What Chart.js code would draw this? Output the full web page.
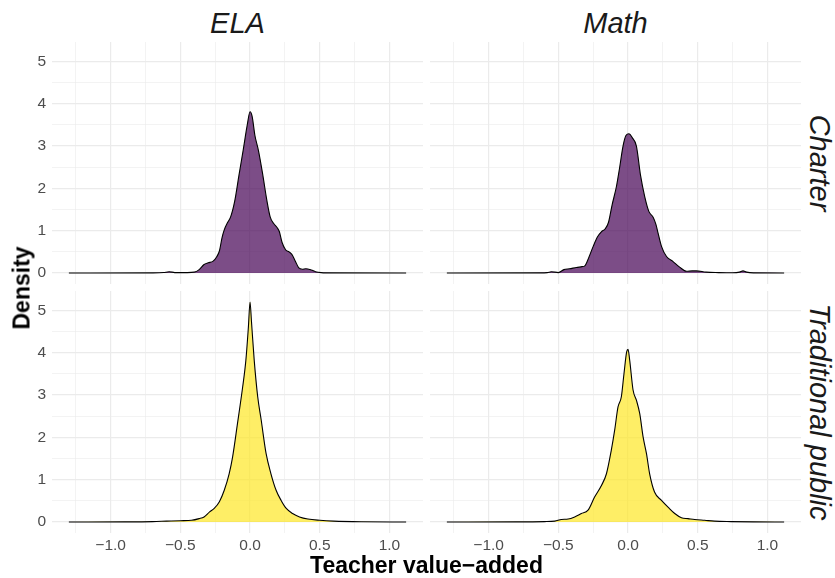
<!DOCTYPE html>
<html>
<head>
<meta charset="utf-8">
<script src="https://cdn.jsdelivr.net/npm/chart.js@4.4.0/dist/chart.umd.min.js"></script>
<style>
  body { margin: 0; background: #fff; width: 835px; height: 578px; position: relative; overflow: hidden;
         font-family: "Liberation Sans", Arial, sans-serif; }
  canvas { position: absolute; }
  .lbl { position: absolute; white-space: nowrap; line-height: 1; }
  .strip { font-size: 29px; font-style: italic; color: #1a1a1a; }
  .axt { font-size: 23px; font-weight: bold; color: #000; }
</style>
</head>
<body>
<canvas id="c_ce" width="423" height="242" style="left:0px;top:42px"></canvas>
<canvas id="c_cm" width="371" height="242" style="left:430px;top:42px"></canvas>
<canvas id="c_te" width="423" height="272" style="left:0px;top:291px"></canvas>
<canvas id="c_tm" width="371" height="272" style="left:430px;top:291px"></canvas>

<div class="lbl strip" style="left:237.5px;top:23px;transform:translate(-50%,-50%)">ELA</div>
<div class="lbl strip" style="left:615.5px;top:23px;transform:translate(-50%,-50%)">Math</div>
<div class="lbl strip" style="left:819px;top:163px;transform:translate(-50%,-50%) rotate(90deg)">Charter</div>
<div class="lbl strip" style="left:819px;top:412px;transform:translate(-50%,-50%) rotate(90deg)">Traditional public</div>
<div class="lbl axt" style="left:22px;top:287.5px;transform:translate(-50%,-50%) rotate(-90deg)">Density</div>
<div class="lbl axt" style="left:426.5px;top:565px;transform:translate(-50%,-50%)">Teacher value−added</div>

<script>
// facet labels
const columns = ["ELA", "Math"];
const rows = ["Charter", "Traditional public"];

// axis ticks (majors labelled, minors only drawn as grid)
const xTicks = [-1.25, -1.0, -0.75, -0.5, -0.25, 0.0, 0.25, 0.5, 0.75, 1.0];
const yTicks = [0, 0.5, 1, 1.5, 2, 2.5, 3, 3.5, 4, 4.5, 5];
const xRange = [-1.421, 1.241];
const yRange = [-0.26, 5.46];

// Charter, ELA
const charterElaX = [-1.30, -0.70, -0.62, -0.58, -0.54, -0.45, -0.40, -0.365, -0.33, -0.30, -0.265, -0.24, -0.22, -0.20, -0.185,
  -0.16, -0.14, -0.11, -0.08, -0.048, -0.02, 0.0, 0.015, 0.035, 0.06, 0.09, 0.12, 0.145, 0.17, 0.195, 0.21, 0.23, 0.255,
  0.28, 0.30, 0.325, 0.35, 0.375, 0.40, 0.44, 0.47, 0.51, 0.60, 1.12];
const charterElaY = [0, 0.002, 0.01, 0.03, 0.01, 0.01, 0.02, 0.08, 0.2, 0.24, 0.28, 0.38, 0.52, 0.85, 1.02,
  1.2, 1.32, 1.7, 2.3, 2.93, 3.5, 3.81, 3.7, 3.25, 2.9, 2.35, 1.73, 1.32, 1.17, 1.07, 0.98, 0.72, 0.55,
  0.5, 0.44, 0.28, 0.12, 0.09, 0.1, 0.07, 0.03, 0.01, 0.002, 0];

// Charter, Math
const charterMathX = [-1.30, -0.70, -0.58, -0.55, -0.50, -0.46, -0.42, -0.37, -0.33, -0.31, -0.28, -0.25, -0.22, -0.19, -0.165,
  -0.14, -0.115, -0.083, -0.06, -0.036, -0.015, 0.007, 0.03, 0.06, 0.09, 0.12, 0.15, 0.18, 0.20, 0.215, 0.24, 0.276,
  0.323, 0.37, 0.42, 0.46, 0.49, 0.56, 0.65, 0.75, 0.80, 0.825, 0.85, 0.90, 1.12];
const charterMathY = [0, 0.002, 0.01, 0.03, 0.01, 0.08, 0.1, 0.13, 0.15, 0.17, 0.38, 0.63, 0.85, 0.98, 1.04,
  1.2, 1.6, 2.05, 2.5, 3.0, 3.25, 3.29, 3.2, 3.0, 2.3, 1.8, 1.45, 1.32, 1.15, 0.95, 0.63, 0.39,
  0.27, 0.14, 0.04, 0.05, 0.05, 0.02, 0.01, 0.005, 0.02, 0.05, 0.02, 0.003, 0];

// Traditional public, ELA
const tradElaX = [-1.30, -0.90, -0.70, -0.60, -0.50, -0.42, -0.365, -0.33, -0.29, -0.257, -0.22, -0.185, -0.15, -0.125,
  -0.09, -0.053, -0.03, -0.012, 0.0, 0.01, 0.03, 0.055, 0.08, 0.115, 0.15, 0.187, 0.223, 0.26, 0.305, 0.355, 0.415,
  0.50, 0.60, 0.80, 1.12];
const tradElaY = [0, 0.003, 0.01, 0.02, 0.03, 0.04, 0.08, 0.12, 0.24, 0.32, 0.48, 0.75, 1.14, 1.54,
  2.33, 3.19, 3.82, 4.6, 5.2, 4.75, 3.82, 2.96, 2.41, 1.62, 1.14, 0.75, 0.51, 0.32, 0.2, 0.12, 0.07,
  0.04, 0.02, 0.005, 0];

// Traditional public, Math
const tradMathX = [-1.30, -0.80, -0.60, -0.526, -0.478, -0.43, -0.383, -0.335, -0.287, -0.24, -0.19, -0.155, -0.12, -0.096,
  -0.072, -0.048, -0.029, -0.01, 0.0, 0.012, 0.036, 0.06, 0.084, 0.108, 0.132, 0.155, 0.19, 0.24, 0.287, 0.335,
  0.383, 0.43, 0.478, 0.55, 0.62, 0.74, 0.90, 1.12];
const tradMathY = [0, 0.003, 0.01, 0.02, 0.06, 0.07, 0.12, 0.2, 0.28, 0.59, 0.87, 1.14, 1.7, 2.17,
  2.72, 2.96, 3.51, 4.02, 4.08, 3.82, 3.12, 2.88, 2.56, 2.01, 1.62, 1.14, 0.71, 0.51, 0.35, 0.2,
  0.1, 0.08, 0.06, 0.04, 0.02, 0.01, 0.003, 0];

const charterFill = "rgba(68,1,84,0.7)";
const tradFill = "rgba(253,231,37,0.7)";

function isMajor(v, step) {
    return Math.abs(v / step - Math.round(v / step)) < 1e-6;
}

function fmtX(v) {
    const s = Math.abs(v).toFixed(1);
    return v < 0 ? "\u2212" + s : s;
}

function makePanel(id, xs, ys, fillColor, showX, showY) {
    const pts = xs.map((x, i) => ({x: x, y: ys[i]}));
    return new Chart(document.getElementById(id), {
        type: "line",
        data: {
            datasets: [{
                data: pts,
                fill: "origin",
                backgroundColor: fillColor,
                borderColor: "#000",
                borderWidth: 1.1,
                pointRadius: 0,
                cubicInterpolationMode: "monotone"
            }]
        },
        options: {
            responsive: false,
            animation: false,
            devicePixelRatio: 1,
            layout: {padding: 0},
            plugins: {legend: {display: false}, tooltip: {enabled: false}},
            scales: {
                x: {
                    type: "linear",
                    min: xRange[0],
                    max: xRange[1],
                    afterBuildTicks: s => { s.ticks = xTicks.map(v => ({value: v})); },
                    afterFit: s => {
                        s.height = showX ? 30 : 0;
                        s.paddingLeft = 0; s.paddingRight = 0;
                    },
                    border: {display: false},
                    grid: {
                        drawTicks: false,
                        color: "#ebebeb",
                        lineWidth: c => isMajor(c.tick.value, 0.5) ? 1.2 : 0.6
                    },
                    ticks: {
                        display: showX,
                        autoSkip: false,
                        maxRotation: 0,
                        padding: 3,
                        color: "#4d4d4d",
                        font: {family: "Liberation Sans", size: 15.5},
                        callback: v => isMajor(v, 0.5) ? fmtX(v) : ""
                    }
                },
                y: {
                    type: "linear",
                    min: yRange[0],
                    max: yRange[1],
                    afterBuildTicks: s => { s.ticks = yTicks.map(v => ({value: v})); },
                    afterFit: s => {
                        s.width = showY ? 52 : 0;
                        s.paddingTop = 0; s.paddingBottom = 0;
                    },
                    border: {display: false},
                    grid: {
                        drawTicks: false,
                        color: "#ebebeb",
                        lineWidth: c => isMajor(c.tick.value, 1) ? 1.2 : 0.6
                    },
                    ticks: {
                        display: showY,
                        autoSkip: false,
                        padding: 6,
                        color: "#4d4d4d",
                        font: {family: "Liberation Sans", size: 15.5},
                        callback: v => isMajor(v, 1) ? String(v) : ""
                    }
                }
            }
        }
    });
}

makePanel("c_ce", charterElaX, charterElaY, charterFill, false, true);
makePanel("c_cm", charterMathX, charterMathY, charterFill, false, false);
makePanel("c_te", tradElaX, tradElaY, tradFill, true, true);
makePanel("c_tm", tradMathX, tradMathY, tradFill, true, false);
</script>
</body>
</html>
